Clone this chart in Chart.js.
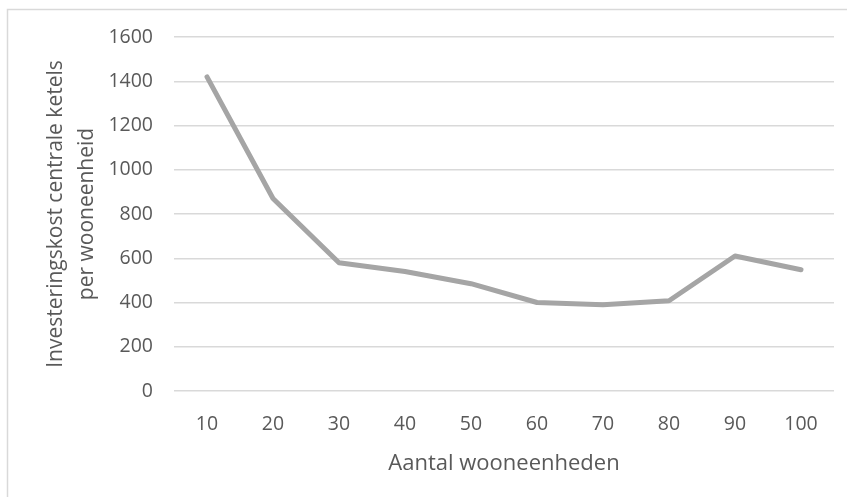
<!DOCTYPE html>
<html>
<head>
<meta charset="utf-8">
<script src="https://cdn.jsdelivr.net/npm/chart.js@4/dist/chart.umd.min.js"></script>
<style>
  html, body { margin: 0; padding: 0; background: #ffffff; }
  #wrap { position: relative; width: 847px; height: 497px; }
</style>
</head>
<body>
<div id="wrap"><canvas id="chart" width="847" height="497"></canvas></div>
<script>
// Number of dwelling units per building (x categories)
const units = ['10', '20', '30', '40', '50', '60', '70', '80', '90', '100'];
// Investment cost of central boilers per dwelling unit
const costPerUnit = [1420, 870, 580, 540, 485, 400, 390, 408, 610, 548];
// Value axis range
const yMin = 0;
const yMax = 1600;
const yStep = 200;

const xTitle = 'Aantal wooneenheden';
const yTitle = ['Investeringskost centrale ketels', 'per wooneenheid'];

const textColor = '#595959';
const gridColor = '#d9d9d9';
const lineColor = '#a5a5a5';
const fontFamily = '"Open Sans", "DejaVu Sans", sans-serif';

// Light frame around the chart object (left and top edges)
const frame = {
  id: 'frame',
  beforeDraw(chart) {
    const ctx = chart.ctx;
    ctx.save();
    ctx.strokeStyle = gridColor;
    ctx.lineWidth = 1.5;
    ctx.beginPath();
    ctx.moveTo(7.5, chart.height + 2);
    ctx.lineTo(7.5, 9.5);
    ctx.lineTo(chart.width + 2, 9.5);
    ctx.stroke();
    ctx.restore();
  }
};

new Chart(document.getElementById('chart'), {
  type: 'line',
  data: {
    labels: units,
    datasets: [{
      data: costPerUnit,
      borderColor: lineColor,
      backgroundColor: lineColor,
      borderWidth: 5,
      borderCapStyle: 'round',
      borderJoinStyle: 'round',
      pointRadius: 0,
      pointHoverRadius: 0,
      tension: 0,
      fill: false
    }]
  },
  options: {
    responsive: false,
    animation: false,
    events: [],
    layout: { padding: { left: 0, top: 37, right: 13, bottom: 0 } },
    plugins: {
      legend: { display: false },
      tooltip: { enabled: false }
    },
    scales: {
      x: {
        offset: true,
        grid: { display: false, drawTicks: false },
        border: { display: false },
        ticks: {
          color: textColor,
          font: { family: fontFamily, size: 19.5 },
          padding: 22,
          maxRotation: 0,
          autoSkip: false
        },
        title: {
          display: true,
          text: xTitle,
          color: textColor,
          font: { family: fontFamily, size: 22 },
          padding: { top: 0, bottom: 20 }
        },
        afterFit(scale) { scale.height = 106; }
      },
      y: {
        min: yMin,
        max: yMax,
        grid: { color: gridColor, lineWidth: 1.5, drawTicks: false },
        border: { display: false },
        ticks: {
          stepSize: yStep,
          color: textColor,
          font: { family: fontFamily, size: 19.5 },
          padding: 21,
          callback: (value) => String(value)
        },
        title: {
          display: true,
          text: yTitle,
          color: textColor,
          font: { family: fontFamily, size: 21, lineHeight: 1.5 },
          padding: { top: 40, bottom: 0 }
        },
        afterFit(scale) { scale.width = 174; }
      }
    }
  },
  plugins: [frame]
});
</script>
</body>
</html>
